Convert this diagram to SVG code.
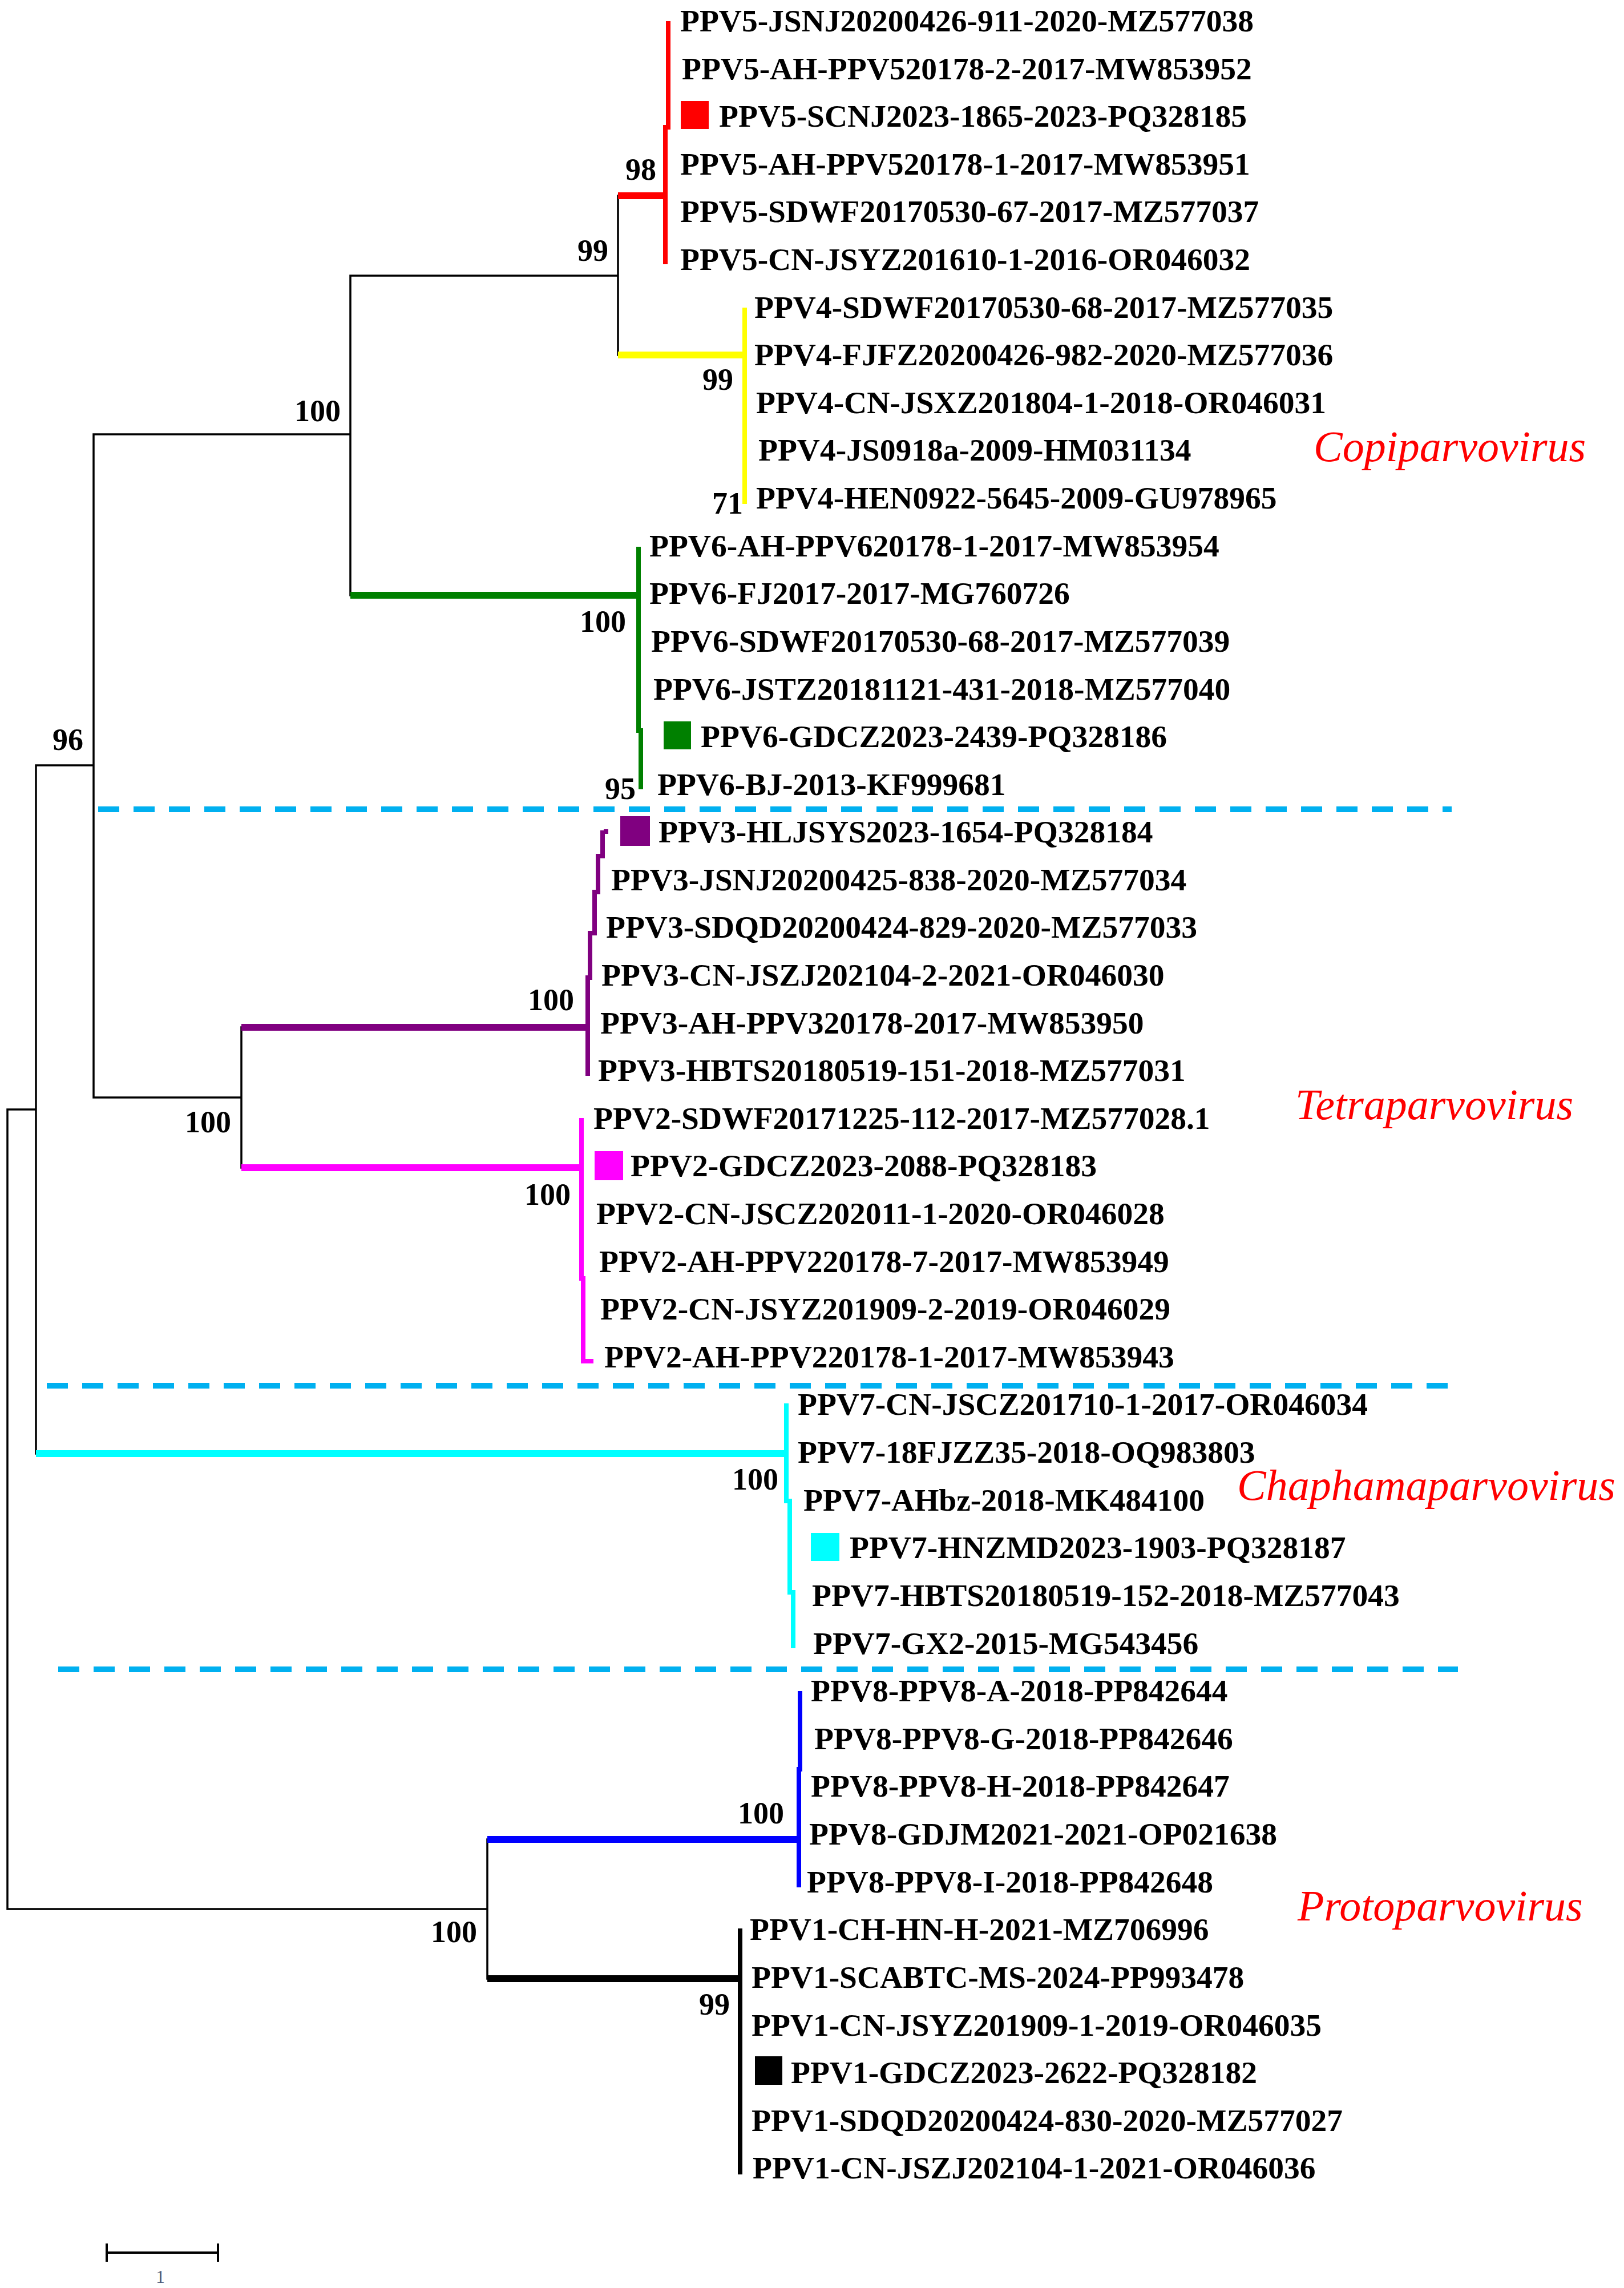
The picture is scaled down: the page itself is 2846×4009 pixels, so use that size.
<svg xmlns="http://www.w3.org/2000/svg" width="2846" height="4009" viewBox="0 0 2846 4009">
<style>
.lbl{font-family:"Liberation Serif","Times New Roman",serif;font-weight:bold;font-size:55.5px;fill:#000}
.bs{font-family:"Liberation Serif","Times New Roman",serif;font-weight:bold;font-size:54px;fill:#000}
.genus{font-family:"Liberation Serif","Times New Roman",serif;font-style:italic;font-size:76px;fill:#FF0000}
.thin{fill:none;stroke:#000;stroke-width:3.5;stroke-linecap:square}
.hb{fill:none;stroke-width:12;stroke-linecap:butt}
.vb{fill:none;stroke-width:8;stroke-linecap:butt;stroke-linejoin:miter}
.dash{fill:none;stroke:#00B0F0;stroke-width:10;stroke-dasharray:37 25}
</style>
<rect width="2846" height="4009" fill="#fff"/>
<g id="connectors">
<path class="thin" d="M13,1944 V3345 M13,1944 H63 M13,3345 H854 M63,1341 V2547 M63,1341 H164 M164,761 V1923 M164,761 H614 M164,1923 H423 M614,483 V1043 M614,483 H1083 M1083,343 V622 M423,1800 V2046 M854,3223 V3467"/>
<path class="hb" stroke="#FF0000" stroke-width="10" d="M1083,343 H1170"/>
<path class="vb" stroke="#FF0000" d="M1171,37 V223 H1166 V463"/>
<path class="hb" stroke="#FFFF00" d="M1083,622 H1305"/>
<path class="vb" stroke="#FFFF00" d="M1305,539 V883"/>
<path class="hb" stroke="#008000" d="M614,1043 H1119"/>
<path class="vb" stroke="#008000" stroke-width="9" d="M1119,958 V1280 H1123 V1383"/>
<path class="hb" stroke="#800080" d="M423,1800 H1030"/>
<path class="vb" stroke="#800080" d="M1066,1457 H1058"/>
<path class="vb" stroke="#800080" stroke-width="14" d="M1056,1455 V1500 H1048 V1563 H1042 V1635 H1034 V1713 H1030 V1885"/>
<path class="hb" stroke="#FF00FF" d="M423,2046 H1019"/>
<path class="vb" stroke="#FF00FF" stroke-width="9" d="M1019,1959 V2240 H1022 V2385 H1040"/>
<path class="hb" stroke="#00FFFF" d="M63,2547 H1378"/>
<path class="vb" stroke="#00FFFF" stroke-width="9" d="M1378,2459 V2630 H1384 V2790 H1390 V2888"/>
<path class="hb" stroke="#0000FF" d="M854,3223 H1400"/>
<path class="vb" stroke="#0000FF" d="M1402,2963 V3100 H1400 V3307"/>
<path class="hb" stroke="#000" d="M854,3467 H1297"/>
<path class="vb" stroke="#000" d="M1297,3379 V3810"/>
<path class="dash" d="M172,1418 H2544"/>
<path class="dash" d="M82,2428 H2545"/>
<path class="dash" d="M102,2925 H2555"/>
<path d="M187,3947 H382 M187,3931 V3963 M382,3931 V3963" fill="none" stroke="#000" stroke-width="4"/>
</g>
<g id="bootstrap">
<text class="bs" x="1096" y="315">98</text>
<text class="bs" x="1012" y="457">99</text>
<text class="bs" x="516" y="738">100</text>
<text class="bs" x="1231" y="683">99</text>
<text class="bs" x="1248" y="900">71</text>
<text class="bs" x="1016" y="1107">100</text>
<text class="bs" x="1060" y="1400">95</text>
<text class="bs" x="92" y="1314">96</text>
<text class="bs" x="925" y="1770">100</text>
<text class="bs" x="324" y="1984">100</text>
<text class="bs" x="919" y="2111">100</text>
<text class="bs" x="1283" y="2610">100</text>
<text class="bs" x="1293" y="3195">100</text>
<text class="bs" x="755" y="3403">100</text>
<text class="bs" x="1225" y="3530">99</text>
</g>
<g id="genus-labels">
<text class="genus" x="2302" y="808">Copiparvovirus</text>
<text class="genus" x="2270" y="1961">Tetraparvovirus</text>
<text class="genus" x="2168" y="2628">Chaphamaparvovirus</text>
<text class="genus" x="2274" y="3365">Protoparvovirus</text>
</g>
<g id="leaves">
<g id="leaf0"><text class="lbl" x="1192" y="55">PPV5-JSNJ20200426-911-2020-MZ577038</text></g>
<g id="leaf1"><text class="lbl" x="1195" y="139">PPV5-AH-PPV520178-2-2017-MW853952</text></g>
<g id="leaf2"><rect x="1193" y="177" width="49" height="49" fill="#FF0000"/><text class="lbl" x="1260" y="222">PPV5-SCNJ2023-1865-2023-PQ328185</text></g>
<g id="leaf3"><text class="lbl" x="1192" y="306">PPV5-AH-PPV520178-1-2017-MW853951</text></g>
<g id="leaf4"><text class="lbl" x="1192" y="389">PPV5-SDWF20170530-67-2017-MZ577037</text></g>
<g id="leaf5"><text class="lbl" x="1192" y="473">PPV5-CN-JSYZ201610-1-2016-OR046032</text></g>
<g id="leaf6"><text class="lbl" x="1322" y="557">PPV4-SDWF20170530-68-2017-MZ577035</text></g>
<g id="leaf7"><text class="lbl" x="1322" y="640">PPV4-FJFZ20200426-982-2020-MZ577036</text></g>
<g id="leaf8"><text class="lbl" x="1325" y="724">PPV4-CN-JSXZ201804-1-2018-OR046031</text></g>
<g id="leaf9"><text class="lbl" x="1329" y="807">PPV4-JS0918a-2009-HM031134</text></g>
<g id="leaf10"><text class="lbl" x="1325" y="891">PPV4-HEN0922-5645-2009-GU978965</text></g>
<g id="leaf11"><text class="lbl" x="1138" y="975">PPV6-AH-PPV620178-1-2017-MW853954</text></g>
<g id="leaf12"><text class="lbl" x="1138" y="1058">PPV6-FJ2017-2017-MG760726</text></g>
<g id="leaf13"><text class="lbl" x="1141" y="1142">PPV6-SDWF20170530-68-2017-MZ577039</text></g>
<g id="leaf14"><text class="lbl" x="1145" y="1226">PPV6-JSTZ20181121-431-2018-MZ577040</text></g>
<g id="leaf15"><rect x="1163" y="1264" width="48" height="49" fill="#008000"/><text class="lbl" x="1228" y="1309">PPV6-GDCZ2023-2439-PQ328186</text></g>
<g id="leaf16"><text class="lbl" x="1152" y="1393">PPV6-BJ-2013-KF999681</text></g>
<g id="leaf17"><rect x="1087" y="1430" width="52" height="52" fill="#800080"/><text class="lbl" x="1154" y="1476">PPV3-HLJSYS2023-1654-PQ328184</text></g>
<g id="leaf18"><text class="lbl" x="1071" y="1560">PPV3-JSNJ20200425-838-2020-MZ577034</text></g>
<g id="leaf19"><text class="lbl" x="1062" y="1643">PPV3-SDQD20200424-829-2020-MZ577033</text></g>
<g id="leaf20"><text class="lbl" x="1054" y="1727">PPV3-CN-JSZJ202104-2-2021-OR046030</text></g>
<g id="leaf21"><text class="lbl" x="1052" y="1811">PPV3-AH-PPV320178-2017-MW853950</text></g>
<g id="leaf22"><text class="lbl" x="1048" y="1894">PPV3-HBTS20180519-151-2018-MZ577031</text></g>
<g id="leaf23"><text class="lbl" x="1040" y="1978">PPV2-SDWF20171225-112-2017-MZ577028.1</text></g>
<g id="leaf24"><rect x="1042" y="2017" width="50" height="51" fill="#FF00FF"/><text class="lbl" x="1105" y="2061">PPV2-GDCZ2023-2088-PQ328183</text></g>
<g id="leaf25"><text class="lbl" x="1045" y="2145">PPV2-CN-JSCZ202011-1-2020-OR046028</text></g>
<g id="leaf26"><text class="lbl" x="1050" y="2229">PPV2-AH-PPV220178-7-2017-MW853949</text></g>
<g id="leaf27"><text class="lbl" x="1052" y="2312">PPV2-CN-JSYZ201909-2-2019-OR046029</text></g>
<g id="leaf28"><text class="lbl" x="1059" y="2396">PPV2-AH-PPV220178-1-2017-MW853943</text></g>
<g id="leaf29"><text class="lbl" x="1398" y="2479">PPV7-CN-JSCZ201710-1-2017-OR046034</text></g>
<g id="leaf30"><text class="lbl" x="1398" y="2563">PPV7-18FJZZ35-2018-OQ983803</text></g>
<g id="leaf31"><text class="lbl" x="1408" y="2647">PPV7-AHbz-2018-MK484100</text></g>
<g id="leaf32"><rect x="1421" y="2686" width="50" height="49" fill="#00FFFF"/><text class="lbl" x="1489" y="2730">PPV7-HNZMD2023-1903-PQ328187</text></g>
<g id="leaf33"><text class="lbl" x="1423" y="2814">PPV7-HBTS20180519-152-2018-MZ577043</text></g>
<g id="leaf34"><text class="lbl" x="1425" y="2898">PPV7-GX2-2015-MG543456</text></g>
<g id="leaf35"><text class="lbl" x="1421" y="2981">PPV8-PPV8-A-2018-PP842644</text></g>
<g id="leaf36"><text class="lbl" x="1427" y="3065">PPV8-PPV8-G-2018-PP842646</text></g>
<g id="leaf37"><text class="lbl" x="1421" y="3148">PPV8-PPV8-H-2018-PP842647</text></g>
<g id="leaf38"><text class="lbl" x="1418" y="3232">PPV8-GDJM2021-2021-OP021638</text></g>
<g id="leaf39"><text class="lbl" x="1414" y="3316">PPV8-PPV8-I-2018-PP842648</text></g>
<g id="leaf40"><text class="lbl" x="1314" y="3399">PPV1-CH-HN-H-2021-MZ706996</text></g>
<g id="leaf41"><text class="lbl" x="1317" y="3483">PPV1-SCABTC-MS-2024-PP993478</text></g>
<g id="leaf42"><text class="lbl" x="1317" y="3567">PPV1-CN-JSYZ201909-1-2019-OR046035</text></g>
<g id="leaf43"><rect x="1323" y="3603" width="48" height="50" fill="#000"/><text class="lbl" x="1386" y="3650">PPV1-GDCZ2023-2622-PQ328182</text></g>
<g id="leaf44"><text class="lbl" x="1317" y="3734">PPV1-SDQD20200424-830-2020-MZ577027</text></g>
<g id="leaf45"><text class="lbl" x="1319" y="3817">PPV1-CN-JSZJ202104-1-2021-OR046036</text></g>
</g>
<g id="scale-bar"><text x="281" y="4000" text-anchor="middle" style="font-family:'Liberation Serif',serif;font-size:32px;fill:#4a5a7a">1</text></g>
</svg>
